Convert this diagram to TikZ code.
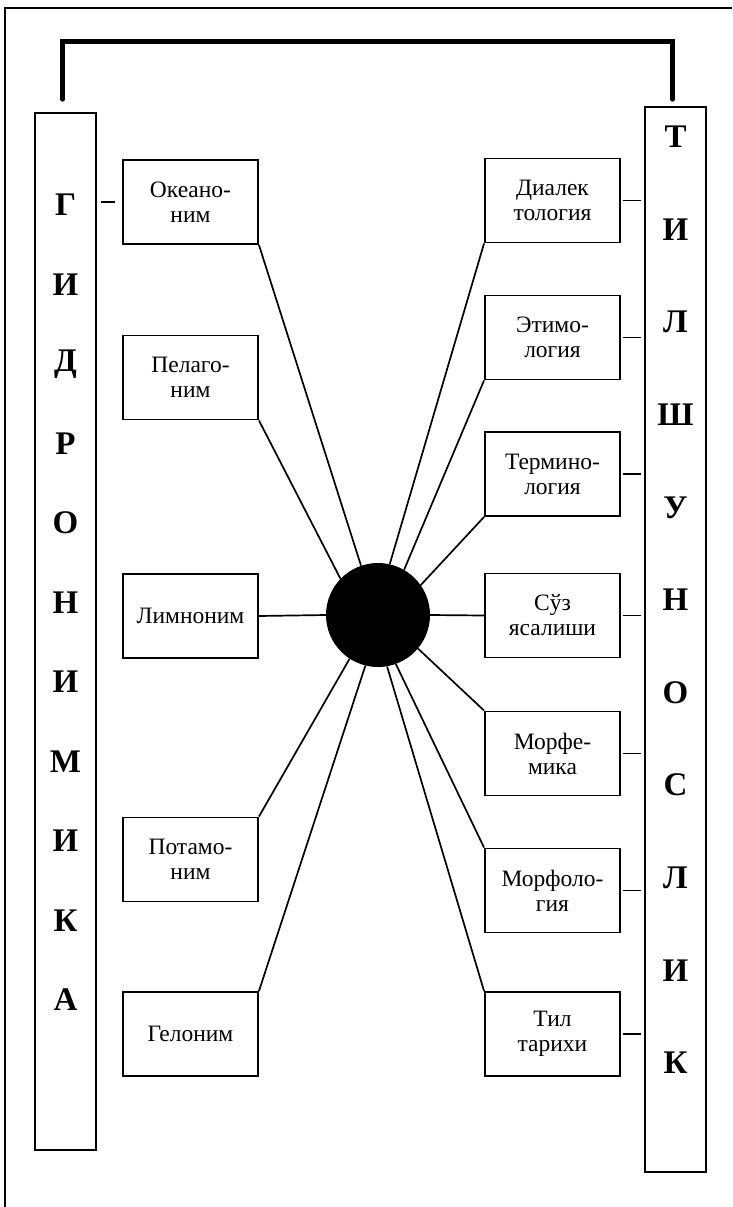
\documentclass[tikz,border=0pt]{standalone}
\usepackage{fontspec}
\setmainfont{Liberation Serif}
\usetikzlibrary{positioning}

\begin{document}
\begin{tikzpicture}[x=1pt, y=-1pt,
  font=\fontsize{23.5}{25}\selectfont,
  every node/.style={align=center, inner sep=0pt},
  term/.style   ={draw, line width=1.9pt, minimum width=135pt, minimum height=84pt},
  col/.style    ={draw, line width=1.6pt, minimum width=61pt},
  letter/.style ={font=\fontsize{33}{33}\selectfont\bfseries},
  hub/.style    ={circle, fill=black, minimum size=104pt},
  link/.style   ={line width=1.7pt},
  stub/.style   ={line width=1.4pt},
  bracket/.style={line width=5pt, line cap=round},
  frame/.style  ={line width=1.8pt}
]
\useasboundingbox (0,0) rectangle (732,1207);
\draw[frame] (5,1207) |- (732,8);

% --- the two columns ---
\node[col, minimum height=1037pt] (gidro) at (65.5,631.5) {};
\node[col, minimum height=1065pt] (tilsh) at (675.5,639.5) {};
\foreach \ch [count=\i from 0] in {Г,И,Д,Р,О,Н,И,М,И,К,А}
  \node[letter] (gl\i) at (65.5,{205+79.5*\i}) {\ch};
\foreach \ch [count=\i from 0] in {Т,И,Л,Ш,У,Н,О,С,Л,И,К}
  \node[letter] (tl\i) at (675.5,{137+92.6*\i}) {\ch};

% --- bracket over the columns ---
\coordinate (bridge) at (367,42);
\draw[bracket] ([xshift=-3pt,yshift=13pt]gidro.north) |- (bridge)
               -| ([xshift=-3pt,yshift=7pt]tilsh.north);

% --- centre ---
\node[hub] (hub) at (378,615) {};

% --- left boxes ---
\node[term] (okean) at (190.5,202)   {Океано-\\ним};
\node[term] (pelag) at (190.5,377.5) {Пелаго-\\ним};
\node[term] (limn)  at (190.5,616)   {Лимноним};
\node[term] (potam) at (190.5,859.5) {Потамо-\\ним};
\node[term] (gelon) at (190.5,1034)  {Гелоним};

% --- right boxes ---
\node[term] (dialekt) at (552.5,200.5) {Диалек\\тология};
\node[term] (etim)    at (552.5,337.5) {Этимо-\\логия};
\node[term] (termin)  at (552.5,474)   {Термино-\\логия};
\node[term] (suz)     at (552.5,615.5) {Сўз\\ясалиши};
\node[term] (morfem)  at (552.5,753.5) {Морфе-\\мика};
\node[term] (morfol)  at (552.5,890.5) {Морфоло-\\гия};
\node[term] (tarix)   at (552.5,1034)  {Тил\\тарихи};

% --- spokes ---
\draw[link] (okean.south east) -- (hub.109);
\draw[link] (pelag.south east) -- (hub.136);
\draw[link] (limn.east)        -- (hub.180);
\draw[link] (potam.north east) -- (hub.237);
\draw[link] (gelon.north east) -- (hub.256);
\draw[link] (dialekt.south west) -- (hub.77);
\draw[link] (etim.south west)    -- (hub.60);
\draw[link] (termin.south west)  -- (hub.35);
\draw[link] (suz.west)           -- (hub.0);
\draw[link] (morfem.north west)  -- (hub.320);
\draw[link] (morfol.north west)  -- (hub.290);
\draw[link] (tarix.north west)   -- (hub.280);

% --- short ties to the columns ---
\draw[stub] ([xshift=-7pt]okean.west) -- ([xshift=4pt]okean.west -| gidro.east);
\foreach \b in {dialekt,etim,termin,suz,morfem,morfol,tarix}
  \draw[stub] ([xshift=2pt]\b.east) -- ([xshift=-3pt]\b.east -| tilsh.west);

\end{tikzpicture}
\end{document}
